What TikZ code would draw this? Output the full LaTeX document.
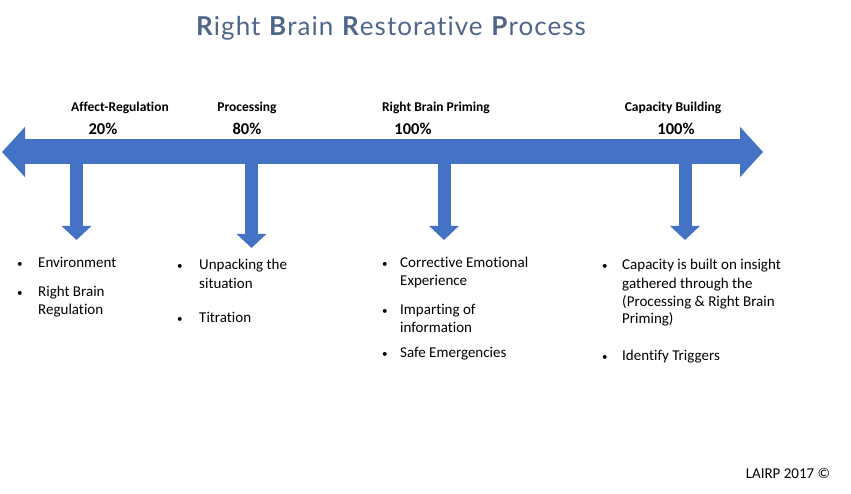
\documentclass[tikz,border=0pt]{standalone}
\usepackage{fontspec}
\usepackage{array}
\setmainfont{Carlito}[Ligatures=NoCommon]
\newfontfamily\titlefont{Lato}[Ligatures=NoCommon, LetterSpace=4]
\usetikzlibrary{arrows.meta}
\definecolor{barblue}{HTML}{4472C4}
\definecolor{titleblue}{HTML}{4F6689}
\newcolumntype{L}[1]{>{\raggedright\arraybackslash}p{#1}}
\newcommand{\dotmark}{{\fontsize{11}{11}\selectfont\textbullet}}
\newcommand{\itemgap}[1]{\\ \noalign{\vspace{#1}}}

\begin{document}
\begin{tikzpicture}[x=1pt, y=-1pt,
  stage/.style={anchor=base, inner sep=0pt, font=\fontsize{13.5}{16}\selectfont\bfseries},
  percent/.style={anchor=base, inner sep=0pt, font=\fontsize{16.5}{19}\selectfont\bfseries},
  bullets/.style={anchor=base west, inner sep=0pt, font=\fontsize{15}{18}\selectfont},
  timeline/.style={barblue, line width=25pt, {Triangle[width=49pt,length=23pt]}-{Triangle[width=49pt,length=23pt]}},
  drop/.style={barblue, line width=13pt, -{Triangle[width=29pt,length=14pt]}}]
\useasboundingbox (0,0) rectangle (851,494);

% title
\node[anchor=base, inner sep=0pt, text=titleblue, font=\titlefont\fontsize{26}{30}\selectfont] (title) at (391,36)
{\textbf{R}ight \textbf{B}rain \textbf{R}estorative \textbf{P}rocess};

% timeline bar
\coordinate (start) at (2,152);
\coordinate (finish) at (763,152);
\draw[timeline] (start) -- (finish);

% stage labels
\node[stage] (affect) at (120,112) {Affect-Regulation};
\node[percent] (affectpct) at (103,135) {20\%};
\node[stage] (processing) at (247,112) {Processing};
\node[percent] (processingpct) at (247,135) {80\%};
\node[stage] (priming) at (436,112) {Right Brain Priming};
\node[percent] (primingpct) at (413,135) {100\%};
\node[stage] (capacity) at (673,112) {Capacity Building};
\node[percent] (capacitypct) at (676,135) {100\%};

% drop arrows
\coordinate (affectbar) at (76.5,152);
\coordinate (affecttip) at (76.5,240);
\coordinate (processingbar) at (251.5,152);
\coordinate (processingtip) at (251.5,248);
\coordinate (primingbar) at (444,152);
\coordinate (primingtip) at (444,240);
\coordinate (capacitybar) at (685,152);
\coordinate (capacitytip) at (685,240);
\draw[drop] (affectbar) -- (affecttip);
\draw[drop] (processingbar) -- (processingtip);
\draw[drop] (primingbar) -- (primingtip);
\draw[drop] (capacitybar) -- (capacitytip);

% bullet lists
\node[bullets] (affectlist) at (17,268)
{\begin{tabular}[t]{@{}p{21pt}@{}L{100pt}@{}}
\dotmark & Environment\itemgap{11pt}
\dotmark & Right Brain Regulation
\end{tabular}};
\node[bullets] (processinglist) at (177,270)
{\begin{tabular}[t]{@{}p{22pt}@{}L{120pt}@{}}
\dotmark & Unpacking the situation\itemgap{17pt}
\dotmark & Titration
\end{tabular}};
\node[bullets] (priminglist) at (382,268)
{\begin{tabular}[t]{@{}p{18pt}@{}L{135pt}@{}}
\dotmark & Corrective Emotional Experience\itemgap{11pt}
\dotmark & Imparting of information\itemgap{7pt}
\dotmark & Safe Emergencies
\end{tabular}};
\node[bullets] (capacitylist) at (602,270)
{\begin{tabular}[t]{@{}p{20pt}@{}L{165pt}@{}}
\dotmark & Capacity is built on insight gathered through the (Processing \& Right Brain Priming)\itemgap{18pt}
\dotmark & Identify Triggers
\end{tabular}};

% copyright
\node[anchor=base, inner sep=0pt, font=\fontsize{15}{18}\selectfont] (copyright) at (788,478) {LAIRP 2017 ©};
\end{tikzpicture}
\end{document}
